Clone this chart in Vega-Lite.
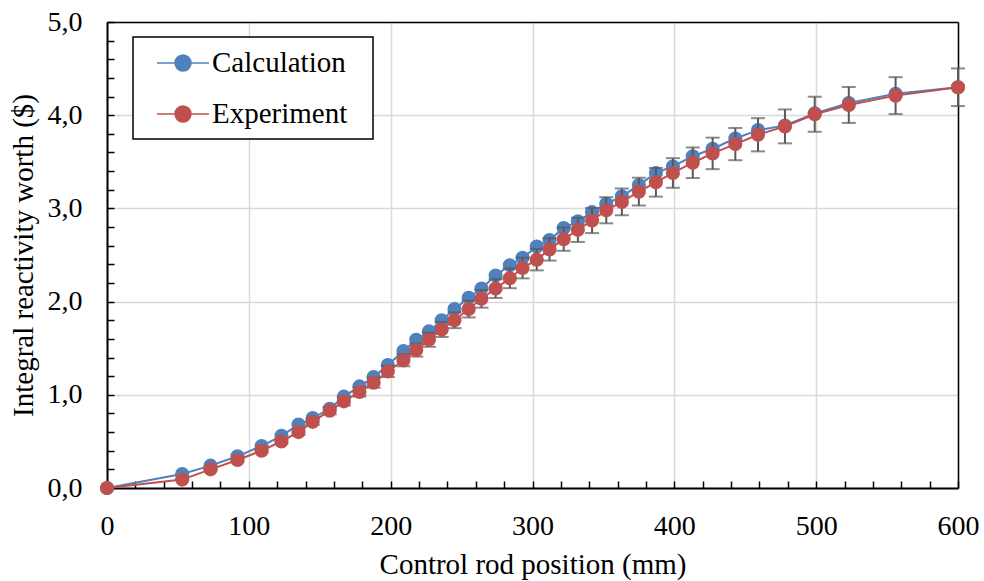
{
  "$schema": "https://vega.github.io/schema/vega-lite/v6.json",
  "width": 851,
  "height": 466,
  "autosize": "none",
  "padding": {"left": 107, "top": 22, "right": 26, "bottom": 93},
  "background": "white",
  "config": {"view": {"stroke": null}, "font": "Liberation Serif", "legend": {"strokeWidth": 1.5}},
  "datasets": {
    "calc": [
      {"x": 0, "y": 0}, {"x": 53, "y": 0.15}, {"x": 73, "y": 0.24}, {"x": 92, "y": 0.34},
      {"x": 109, "y": 0.45}, {"x": 123, "y": 0.56}, {"x": 135, "y": 0.68}, {"x": 145, "y": 0.75},
      {"x": 157, "y": 0.85}, {"x": 167, "y": 0.98}, {"x": 178, "y": 1.09}, {"x": 188, "y": 1.19},
      {"x": 198, "y": 1.32}, {"x": 209, "y": 1.47}, {"x": 218, "y": 1.59}, {"x": 227, "y": 1.68},
      {"x": 236, "y": 1.8}, {"x": 245, "y": 1.92}, {"x": 255, "y": 2.04}, {"x": 264, "y": 2.14},
      {"x": 274, "y": 2.28}, {"x": 284, "y": 2.39}, {"x": 293, "y": 2.47}, {"x": 303, "y": 2.59},
      {"x": 312, "y": 2.66}, {"x": 322, "y": 2.79}, {"x": 332, "y": 2.86}, {"x": 342, "y": 2.96},
      {"x": 352, "y": 3.05}, {"x": 363, "y": 3.13}, {"x": 375, "y": 3.25}, {"x": 387, "y": 3.38},
      {"x": 399, "y": 3.45}, {"x": 413, "y": 3.56}, {"x": 427, "y": 3.64}, {"x": 443, "y": 3.75},
      {"x": 459, "y": 3.84}, {"x": 478, "y": 3.89}, {"x": 499, "y": 4.02}, {"x": 523, "y": 4.13},
      {"x": 556, "y": 4.23}, {"x": 600, "y": 4.3}
    ],
    "exp": [
      {"x": 0, "y": 0, "err": 0}, {"x": 53, "y": 0.09, "err": 0.004}, {"x": 73, "y": 0.2, "err": 0.009},
      {"x": 92, "y": 0.3, "err": 0.014}, {"x": 109, "y": 0.4, "err": 0.019}, {"x": 123, "y": 0.5, "err": 0.024},
      {"x": 135, "y": 0.6, "err": 0.028}, {"x": 145, "y": 0.71, "err": 0.033}, {"x": 157, "y": 0.83, "err": 0.039},
      {"x": 167, "y": 0.93, "err": 0.044}, {"x": 178, "y": 1.03, "err": 0.048}, {"x": 188, "y": 1.13, "err": 0.053},
      {"x": 198, "y": 1.25, "err": 0.059}, {"x": 209, "y": 1.37, "err": 0.064}, {"x": 218, "y": 1.48, "err": 0.07},
      {"x": 227, "y": 1.59, "err": 0.075}, {"x": 236, "y": 1.7, "err": 0.08}, {"x": 245, "y": 1.8, "err": 0.085},
      {"x": 255, "y": 1.92, "err": 0.09}, {"x": 264, "y": 2.03, "err": 0.095}, {"x": 274, "y": 2.14, "err": 0.101},
      {"x": 284, "y": 2.25, "err": 0.106}, {"x": 293, "y": 2.36, "err": 0.111}, {"x": 303, "y": 2.45, "err": 0.115},
      {"x": 312, "y": 2.56, "err": 0.12}, {"x": 322, "y": 2.67, "err": 0.125}, {"x": 332, "y": 2.77, "err": 0.13},
      {"x": 342, "y": 2.87, "err": 0.135}, {"x": 352, "y": 2.98, "err": 0.14}, {"x": 363, "y": 3.07, "err": 0.144},
      {"x": 375, "y": 3.18, "err": 0.149}, {"x": 387, "y": 3.28, "err": 0.154}, {"x": 399, "y": 3.38, "err": 0.159},
      {"x": 413, "y": 3.49, "err": 0.164}, {"x": 427, "y": 3.59, "err": 0.169}, {"x": 443, "y": 3.69, "err": 0.173},
      {"x": 459, "y": 3.79, "err": 0.178}, {"x": 478, "y": 3.88, "err": 0.182}, {"x": 499, "y": 4.01, "err": 0.188},
      {"x": 523, "y": 4.11, "err": 0.193}, {"x": 556, "y": 4.21, "err": 0.198}, {"x": 600, "y": 4.3, "err": 0.202}
    ]
  },
  "resolve": {"axis": {"x": "independent", "y": "independent"}},
  "layer": [
    {
      "data": {"name": "calc"},
      "mark": {"type": "line", "strokeWidth": 2},
      "encoding": {
        "x": {"field": "x", "type": "quantitative", "scale": {"domain": [0, 600], "nice": false},
          "axis": {"orient": "bottom", "values": [0, 100, 200, 300, 400, 500, 600], "ticks": false,
            "grid": true, "gridColor": "#d9d9d9", "gridWidth": 1.5, "domainColor": "black", "domainWidth": 2,
            "labelFont": "Liberation Serif", "labelFontSize": 28, "labelColor": "black", "labelPadding": 24,
            "labelFlush": false,
            "title": "Control rod position (mm)", "titleFont": "Liberation Serif", "titleFontSize": 29,
            "titleFontWeight": "normal", "titleColor": "black", "titleBaseline": "alphabetic", "titleY": 85}},
        "y": {"field": "y", "type": "quantitative", "scale": {"domain": [0, 5], "nice": false},
          "axis": {"orient": "left", "values": [0, 1, 2, 3, 4, 5], "ticks": false,
            "grid": true, "gridColor": "#d9d9d9", "gridWidth": 1.5, "domainColor": "black", "domainWidth": 2,
            "labelFont": "Liberation Serif", "labelFontSize": 28, "labelColor": "black", "labelPadding": 25,
            "labelFlush": false, "labelExpr": "replace(format(datum.value, '.1f'), '.', ',')",
            "title": "Integral reactivity worth ($)", "titleFont": "Liberation Serif", "titleFontSize": 29,
            "titleFontWeight": "normal", "titleColor": "black", "titleBaseline": "alphabetic", "titleX": -75}},
        "color": {"datum": "Calculation", "type": "nominal",
          "scale": {"domain": ["Calculation", "Experiment"], "range": ["#4F81BD", "#C0504D"]},
          "legend": {"title": " ", "titleOrient": "right", "titlePadding": 16, "titleFontSize": 8,
            "orient": "none", "legendX": 26, "legendY": 15,
            "fillColor": "white", "strokeColor": "black", "padding": 10,
            "rowPadding": 20, "labelOffset": 37, "labelFont": "Liberation Serif", "labelFontSize": 29,
            "labelColor": "black", "symbolSize": 900, "symbolStrokeWidth": 1.5,
            "symbolType": "M-0.133,0L3.333,0M1.067,0A0.533,0.533,0,1,1,2.133,0A0.533,0.533,0,1,1,1.067,0Z"}}
      }
    },
    {
      "data": {"name": "calc"},
      "mark": {"type": "point", "filled": true, "size": 200, "opacity": 1},
      "encoding": {
        "x": {"field": "x", "type": "quantitative",
          "axis": {"orient": "bottom", "values": [0, 20, 40, 60, 80, 100, 120, 140, 160, 180, 200, 220, 240, 260, 280, 300, 320, 340, 360, 380, 400, 420, 440, 460, 480, 500, 520, 540, 560, 580, 600],
            "labels": false, "grid": false, "domain": false, "ticks": true, "tickSize": -7, "tickColor": "black", "tickWidth": 1.5, "title": null}},
        "y": {"field": "y", "type": "quantitative",
          "axis": {"orient": "left", "values": [0, 0.2, 0.4, 0.6, 0.8, 1, 1.2, 1.4, 1.6, 1.8, 2, 2.2, 2.4, 2.6, 2.8, 3, 3.2, 3.4, 3.6, 3.8, 4, 4.2, 4.4, 4.6, 4.8, 5],
            "labels": false, "grid": false, "domain": false, "ticks": true, "tickSize": -7, "tickColor": "black", "tickWidth": 1.5, "title": null}},
        "color": {"datum": "Calculation", "type": "nominal"}
      }
    },
    {
      "data": {"name": "exp"},
      "mark": {"type": "errorbar", "color": "#595959", "ticks": {"size": 14, "thickness": 2}, "rule": {"strokeWidth": 2}},
      "encoding": {
        "x": {"field": "x", "type": "quantitative", "axis": null},
        "y": {"field": "y", "type": "quantitative", "axis": null},
        "yError": {"field": "err"}
      }
    },
    {
      "data": {"name": "exp"},
      "mark": {"type": "line", "strokeWidth": 2},
      "encoding": {
        "x": {"field": "x", "type": "quantitative", "axis": null},
        "y": {"field": "y", "type": "quantitative", "axis": null},
        "color": {"datum": "Experiment", "type": "nominal"}
      }
    },
    {
      "data": {"name": "exp"},
      "mark": {"type": "point", "filled": true, "size": 200, "opacity": 1},
      "encoding": {
        "x": {"field": "x", "type": "quantitative",
          "axis": {"orient": "top", "labels": false, "ticks": false, "grid": false, "domain": true, "domainColor": "black", "domainWidth": 1.5, "title": null}},
        "y": {"field": "y", "type": "quantitative",
          "axis": {"orient": "right", "labels": false, "ticks": false, "grid": false, "domain": true, "domainColor": "black", "domainWidth": 1.5, "title": null}},
        "color": {"datum": "Experiment", "type": "nominal"}
      }
    }
  ]
}
